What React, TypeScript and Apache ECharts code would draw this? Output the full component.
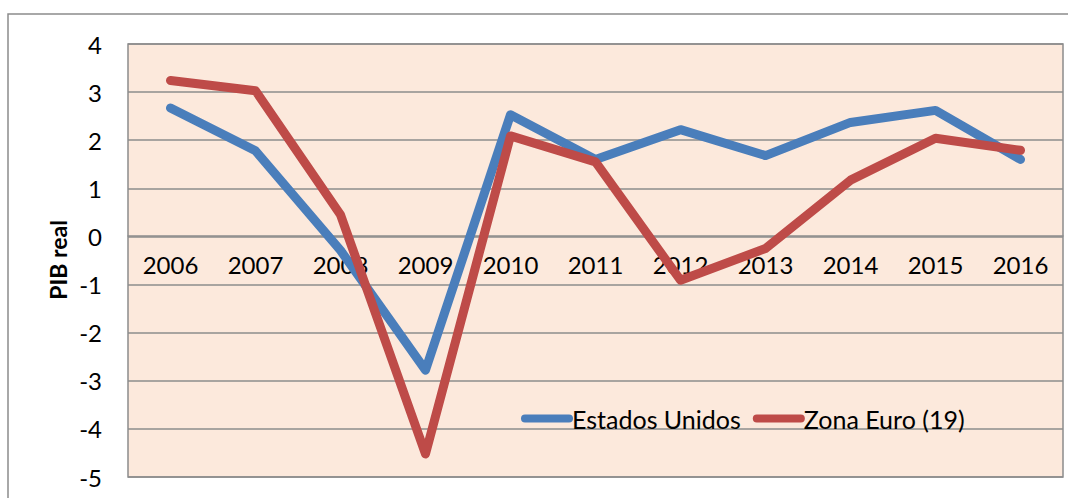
import React, { useEffect, useRef } from "react";
import * as echarts from "echarts";

const years = ["2006", "2007", "2008", "2009", "2010", "2011", "2012", "2013", "2014", "2015", "2016"];
const estadosUnidos = [2.67, 1.78, -0.29, -2.78, 2.53, 1.6, 2.22, 1.68, 2.37, 2.62, 1.6];
const zonaEuro = [3.24, 3.03, 0.45, -4.52, 2.09, 1.55, -0.91, -0.25, 1.17, 2.04, 1.79];
const seriesNames = ["Estados Unidos", "Zona Euro (19)"];
const yAxisTitle = "PIB real";

const FONT = "Lato, 'Liberation Sans', sans-serif";
const pill = "path://M4,0 L48,0 A4,4 0 0 1 48,8 L4,8 A4,4 0 0 1 4,0 Z";

export default function App() {
  const ref = useRef<HTMLDivElement>(null);
  useEffect(() => {
    if (!ref.current) return;
    const chart = echarts.init(ref.current, null, { renderer: "svg" });
    chart.setOption({
      animation: false,
      backgroundColor: "#ffffff",
      textStyle: { fontFamily: FONT },
      grid: {
        left: 128,
        top: 44,
        right: 5,
        bottom: 21,
        containLabel: false,
        outerBoundsMode: "none",
        show: true,
        backgroundColor: "#FCE9DC",
        borderColor: "#8C8C8C",
        borderWidth: 1.5,
      },
      graphic: [
        {
          type: "rect",
          shape: { x: 8, y: 14, width: 1100, height: 520 },
          style: { fill: "none", stroke: "#8C8C8C", lineWidth: 1.5 },
          silent: true,
        },
        {
          type: "text",
          x: 58,
          y: 260,
          rotation: Math.PI / 2,
          style: {
            text: yAxisTitle,
            font: `bold 23px ${FONT}`,
            fill: "#000",
            align: "center",
            verticalAlign: "middle",
          },
        },
      ],
      legend: {
        left: 516,
        top: 401,
        itemWidth: 52,
        itemHeight: 9,
        itemGap: 12,
        icon: pill,
        data: seriesNames,
        textStyle: { fontSize: 25, color: "#000", fontFamily: FONT, padding: [0, 0, 0, -6] },
      },
      xAxis: {
        type: "category",
        data: years,
        boundaryGap: true,
        offset: -241,
        axisLine: { onZero: false, lineStyle: { color: "#8C8C8C", width: 1.5 } },
        axisTick: { show: false },
        axisLabel: { fontSize: 24, color: "#000", margin: 16, fontFamily: FONT },
        splitLine: { show: false },
      },
      yAxis: {
        type: "value",
        min: -5,
        max: 4,
        interval: 1,
        axisLine: { show: false },
        axisTick: { show: false },
        axisLabel: { fontSize: 24, color: "#000", margin: 26, fontFamily: FONT },
        splitLine: { show: true, lineStyle: { color: "#8C8C8C", width: 1.5 } },
      },
      series: [
        {
          name: seriesNames[0],
          type: "line",
          data: estadosUnidos,
          symbol: "none",
          lineStyle: { color: "#4A7EBB", width: 9, cap: "round", join: "round" },
          itemStyle: { color: "#4A7EBB" },
        },
        {
          name: seriesNames[1],
          type: "line",
          data: zonaEuro,
          symbol: "none",
          lineStyle: { color: "#BE4B48", width: 9, cap: "round", join: "round" },
          itemStyle: { color: "#BE4B48" },
        },
      ],
    });
    return () => chart.dispose();
  }, []);
  return <div ref={ref} style={{ width: 1068, height: 498, position: "absolute", left: 0, top: 0 }} />;
}
